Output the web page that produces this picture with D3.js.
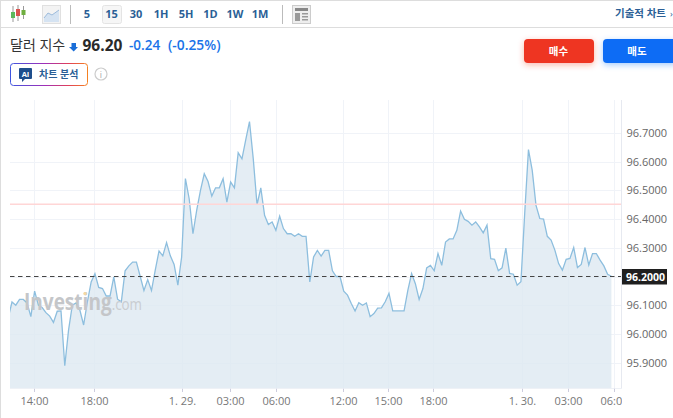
<!DOCTYPE html>
<html><head><meta charset="utf-8">
<script src="https://cdn.jsdelivr.net/npm/d3@7"></script>
<style>html,body{margin:0;padding:0;background:#fff;overflow:hidden}svg{display:block}text{font-family:"Open Sans","Noto Sans","Noto Sans CJK KR",sans-serif}</style>
</head><body><svg id="c" width="673" height="418"></svg>
<script>
const values=[96.056,96.111,96.100,96.120,96.120,96.108,96.060,96.149,96.100,96.092,96.074,96.062,96.040,96.079,96.080,95.889,96.013,96.100,96.108,96.083,96.031,96.112,96.181,96.210,96.162,96.158,96.132,96.132,96.199,96.121,96.112,96.220,96.237,96.250,96.250,96.201,96.151,96.189,96.151,96.222,96.289,96.272,96.318,96.272,96.242,96.170,96.268,
96.541,96.471,96.349,96.431,96.500,96.558,96.531,96.480,96.509,96.509,96.541,96.459,96.529,96.509,96.631,96.610,96.676,96.740,96.610,96.450,96.509,96.413,96.381,96.390,96.361,96.410,96.367,96.349,96.349,96.340,96.349,96.340,96.340,96.181,96.268,96.291,96.271,96.291,96.291,96.220,96.200,
96.200,96.149,96.135,96.106,96.080,96.109,96.100,96.108,96.060,96.071,96.090,96.091,96.112,96.141,96.080,96.080,96.080,96.080,96.152,96.210,96.175,96.120,96.158,96.230,96.239,96.220,96.280,96.239,96.320,96.331,96.331,96.361,96.428,96.399,96.392,96.379,96.390,96.373,96.352,96.379,96.262,96.260,96.220,96.230,96.299,
96.211,96.208,96.170,96.182,96.419,96.642,96.570,96.448,96.402,96.400,96.340,96.327,96.292,96.245,96.222,96.260,96.263,96.301,96.231,96.242,96.301,96.240,96.280,96.280,96.257,96.237,96.208,96.201];
const timeLabels=["14:00","18:00","1. 29.","03:00","06:00","12:00","15:00","18:00","1. 30.","03:00","06:00"];
const timeBars=[6.83,22.85,46.1,58.9,71,88.7,100.8,112.8,136.4,148.6,160.8];
const priceTicks=[95.9,96.0,96.1,96.2,96.3,96.4,96.5,96.6,96.7];
const lastPrice=96.2, prevClose=96.452;
const intervals=["5","15","30","1H","5H","1D","1W","1M"];
const intervalCentres=[87,111.5,136,161,186,210.5,235,260];

const svg=d3.select("#c");
const x=d3.scaleLinear().domain([0,values.length-1]).range([8.23,611.4]);
const y=d3.scaleLinear().domain([95.9,96.7]).range([362.6,133]);
const pBottom=388.5,pLeft=10,pRight=622,pTop=100;
const defs=svg.append("defs");
defs.append("clipPath").attr("id","plot").append("rect").attr("x",pLeft).attr("y",pTop).attr("width",pRight-pLeft).attr("height",pBottom-pTop);
defs.append("clipPath").attr("id","xclip").append("rect").attr("x",0).attr("y",pBottom).attr("width",pRight).attr("height",30);
const g=defs.append("linearGradient").attr("id","ai").attr("gradientUnits","userSpaceOnUse").attr("x1",10).attr("x2",88).attr("y1",74).attr("y2",74);
[[0,"#3d55e0"],[.45,"#a02fb8"],[.75,"#e0405a"],[1,"#f58220"]].forEach(d=>g.append("stop").attr("offset",d[0]).attr("stop-color",d[1]));
const sh=(id,c)=>{const f=defs.append("filter").attr("id",id).attr("x","-30%").attr("y","-50%").attr("width","160%").attr("height","200%");f.append("feDropShadow").attr("dx",0).attr("dy",2).attr("stdDeviation",3).attr("flood-color",c).attr("flood-opacity",.35);};
sh("sr","#ee3524");sh("sb","#0a6cf5");

// frame
svg.append("line").attr("x1",0).attr("x2",673).attr("y1",0.5).attr("y2",0.5).attr("stroke","#ddd");
svg.append("line").attr("x1",0).attr("x2",673).attr("y1",27.5).attr("y2",27.5).attr("stroke","#ddd");
svg.append("line").attr("x1",.5).attr("x2",.5).attr("y1",0).attr("y2",418).attr("stroke","#ddd");

// grid
const grid=svg.append("g").attr("stroke","#f0f3f8");
grid.selectAll("line.h").data(priceTicks).join(e=>e.append("line").attr("class","h")).attr("x1",pLeft).attr("x2",pRight).attr("y1",d=>Math.round(y(d))+.5).attr("y2",d=>Math.round(y(d))+.5);
grid.selectAll("line.v").data(timeBars).join(e=>e.append("line").attr("class","v")).attr("x1",d=>Math.round(x(d))+.5).attr("x2",d=>Math.round(x(d))+.5).attr("y1",pTop).attr("y2",pBottom);

// area + line
const plot=svg.append("g").attr("clip-path","url(#plot)");
plot.append("path").datum(values).attr("fill","#dde8f1").attr("fill-opacity",.8)
 .attr("d",d3.area().x((d,i)=>x(i)).y0(pBottom).y1(d=>y(d)));

// watermark
const wm=svg.append("text").attr("transform","translate(24,310) scale(.81,1)");
wm.append("tspan").text("Investing").attr("font-size",23.5).attr("font-weight",700).attr("fill","#c4c6c9");
wm.append("tspan").text(".com").attr("font-size",16.5).attr("fill","#c9ccd0");
svg.append("circle").attr("cx",85).attr("cy",293.5).attr("r",1.6).attr("fill","#f7d9a0");

plot.append("path").datum(values).attr("fill","none").attr("stroke","#8dbede").attr("stroke-width",1.3)
 .attr("d",d3.line().x((d,i)=>x(i)).y(d=>y(d)));
plot.append("line").attr("x1",pLeft).attr("x2",pRight).attr("y1",y(prevClose)).attr("y2",y(prevClose)).attr("stroke","#ffd6d6").attr("stroke-width",1.4);
plot.append("line").attr("x1",pLeft).attr("x2",pRight).attr("y1",276.5).attr("y2",276.5).attr("stroke","#444").attr("stroke-dasharray","4.5 3.5");

// axes frame
svg.append("line").attr("x1",pRight-.5).attr("x2",pRight-.5).attr("y1",pTop).attr("y2",pBottom+.5).attr("stroke","#e6e9f0");
svg.append("line").attr("x1",pLeft).attr("x2",pRight).attr("y1",pBottom).attr("y2",pBottom).attr("stroke","#eef1f6");

// y axis
svg.append("g").selectAll("text").data(priceTicks.filter(d=>d!==lastPrice)).join("text")
 .attr("x",626.5).attr("y",d=>y(d)+4).attr("font-size",11).attr("fill","#666").text(d=>d.toFixed(4));
svg.append("rect").attr("x",622).attr("y",269).attr("width",45).attr("height",15.5).attr("fill","#1f1f1f");
svg.append("text").attr("x",626).attr("y",281).attr("font-size",10.5).attr("font-weight",700).attr("fill","#fff").text(lastPrice.toFixed(4));

// x axis
const xa=svg.append("g").attr("clip-path","url(#xclip)");
const xt=xa.selectAll("g").data(timeBars).join("g").attr("transform",d=>`translate(${Math.round(x(d))+.5},0)`);
xt.append("line").attr("y1",pBottom).attr("y2",pBottom+3.5).attr("stroke","#ccd");
xt.append("text").attr("y",405).attr("text-anchor","middle").attr("font-size",11).attr("fill","#777").text((d,i)=>timeLabels[i]);

// toolbar
const ink="#2b5f96";
const bar=svg.append("g");
bar.append("rect").attr("x",102.5).attr("y",5.5).attr("width",19).attr("height",18).attr("rx",2).attr("fill","#f6f6f6").attr("stroke","#e4e4e4");
bar.selectAll("text").data(intervals).join("text").attr("x",(d,i)=>intervalCentres[i]).attr("y",18).attr("text-anchor","middle")
 .attr("font-size",11).attr("font-weight",700).attr("fill",ink).text(d=>d);
[70.5,282.5].forEach(d=>bar.append("line").attr("x1",d).attr("x2",d).attr("y1",5).attr("y2",24).attr("stroke","#bbb"));
[{c:13,a:6,b:22,t:12,h:18,f:"#5cb85c"},{c:18,a:5,b:21,t:9,h:16,f:"#d9534f"},{c:23.5,a:6,b:19,t:10,h:15,f:"#6fae3f"}].forEach(d=>{
 bar.append("line").attr("x1",d.c).attr("x2",d.c).attr("y1",d.a).attr("y2",d.b).attr("stroke","#999");
 bar.append("rect").attr("x",d.c-2).attr("y",d.t).attr("width",4).attr("height",d.h-d.t).attr("fill",d.f);
});
bar.append("rect").attr("x",42.5).attr("y",5.5).attr("width",18).attr("height",18).attr("fill","#f3f3f3").attr("stroke","#e0e0e0");
bar.append("path").attr("d","M44 18 L48 13 L52 15 L59 10 V22 H44 Z").attr("fill","#d5e3f2");
bar.append("path").attr("d","M44 18 L48 13 L52 15 L59 10").attr("fill","none").attr("stroke","#9dbbdb");
bar.append("rect").attr("x",292.5).attr("y",5.5).attr("width",18).attr("height",18).attr("fill","#eee").attr("stroke","#ccc");
bar.append("rect").attr("x",295).attr("y",8).attr("width",13).attr("height",3).attr("fill","#888");
bar.append("rect").attr("x",295).attr("y",13).attr("width",5).attr("height",8).attr("fill","#999");
[13,16,19].forEach(v=>bar.append("rect").attr("x",302).attr("y",v).attr("width",6).attr("height",1.5).attr("fill","#999"));
svg.append("text").attr("x",615).attr("y",17).attr("font-size",10.5).attr("font-weight",700).attr("fill",ink).text("기술적 차트");
svg.append("text").attr("x",670).attr("y",17).attr("font-size",9).attr("fill",ink).text("›");

// title
svg.append("text").attr("x",10).attr("y",50).attr("font-size",14).attr("fill","#333").text("달러 지수");
svg.append("path").attr("d","M71.5 43 H76 V47 H78 L73.7 51.5 L69 47 H71.5 Z").attr("fill","#1a6ed8");
svg.append("text").attr("x",82.5).attr("y",51).attr("font-size",15.5).attr("font-weight",700).attr("fill","#2a2a2a").text("96.20");
svg.append("text").attr("x",129).attr("y",50).attr("font-size",13.5).attr("font-weight",600).attr("fill","#1a73e8").text("-0.24");
svg.append("text").attr("x",168).attr("y",50).attr("font-size",13.8).attr("font-weight",600).attr("fill","#1a73e8").text("(-0.25%)");

// AI button
svg.append("rect").attr("x",10.5).attr("y",63.5).attr("width",77).attr("height",22).attr("rx",3).attr("fill","#fff").attr("stroke","url(#ai)");
svg.append("path").attr("d","M20 68 H31 Q32 68 32 69 V78 Q32 79 31 79 H25 L22 82 V79 H20 Q19 79 19 78 V69 Q19 68 20 68 Z").attr("fill","#1f4e8c");
svg.append("text").attr("x",25.5).attr("y",77).attr("text-anchor","middle").attr("font-size",7.5).attr("font-weight",700).attr("fill","#fff").text("AI");
svg.append("text").attr("x",39).attr("y",77.5).attr("font-size",10).attr("font-weight",700).attr("fill","#2b5f96").text("차트 분석");
svg.append("circle").attr("cx",101).attr("cy",74).attr("r",6).attr("fill","#fff").attr("stroke","#ccc").attr("stroke-width",1.2);
svg.append("text").attr("x",101).attr("y",77.5).attr("text-anchor","middle").attr("font-size",9).attr("fill","#aaa").text("i");

// buttons
svg.append("rect").attr("x",524).attr("y",39).attr("width",70).attr("height",24).attr("rx",4).attr("fill","#ee3524").attr("filter","url(#sr)");
svg.append("rect").attr("x",603).attr("y",39).attr("width",76).attr("height",24).attr("rx",4).attr("fill","#0a6cf5").attr("filter","url(#sb)");
svg.append("text").attr("x",558.5).attr("y",55).attr("text-anchor","middle").attr("font-size",10.5).attr("font-weight",700).attr("fill","#fff").text("매수");
svg.append("text").attr("x",637).attr("y",55).attr("text-anchor","middle").attr("font-size",10.5).attr("font-weight",700).attr("fill","#fff").text("매도");
</script></body></html>
